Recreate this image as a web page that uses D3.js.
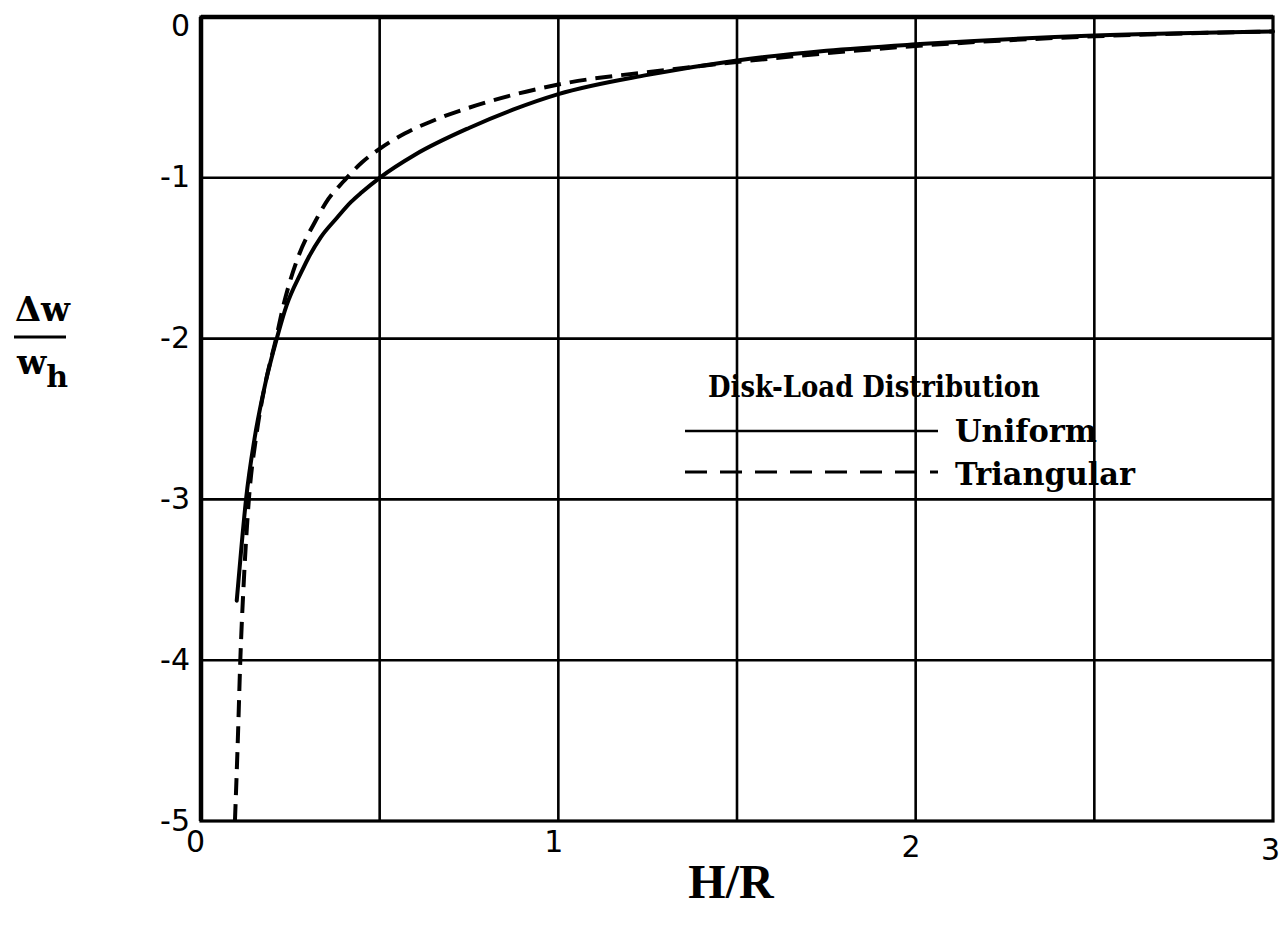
<!DOCTYPE html>
<html>
<head>
<meta charset="utf-8">
<script src="https://cdn.jsdelivr.net/npm/d3@7/dist/d3.min.js"></script>
<style>
  html, body { margin: 0; padding: 0; background: #fff; }
  svg { display: block; }
</style>
</head>
<body>
<svg id="chart" width="1286" height="932"></svg>
<script>
// ---- Data ----
const xTicks = [0, 1, 2, 3];
const xGrid = [0.5, 1, 1.5, 2, 2.5];
const yTicks = [0, -1, -2, -3, -4, -5];
const yTickLabels = ["0", "-1", "-2", "-3", "-4", "-5"];

const uniformX = [0.10, 0.113, 0.126, 0.15, 0.18, 0.212, 0.24, 0.28, 0.30, 0.335, 0.38, 0.42, 0.45, 0.5, 0.6, 0.75, 0.875, 1.0, 1.25, 1.5, 1.75, 2.0, 2.5, 3.0];
const uniformY = [-3.63, -3.3, -3.0, -2.62, -2.28, -2.0, -1.79, -1.59, -1.50, -1.37, -1.25, -1.15, -1.09, -1.0, -0.855, -0.69, -0.575, -0.48, -0.36, -0.27, -0.21, -0.17, -0.115, -0.09];

const triangularX = [0.095, 0.103, 0.11, 0.12, 0.134, 0.155, 0.18, 0.21, 0.23, 0.274, 0.32, 0.357, 0.40, 0.45, 0.5, 0.57, 0.66, 0.77, 1.0, 1.3, 1.5, 2.0, 2.5, 3.0];
const triangularY = [-5.0, -4.5, -4.0, -3.5, -3.0, -2.6, -2.28, -2.0, -1.8, -1.48, -1.27, -1.13, -1.02, -0.905, -0.82, -0.725, -0.635, -0.55, -0.42, -0.33, -0.28, -0.18, -0.12, -0.09];

const legendTitle = "Disk-Load Distribution";
const seriesNames = ["Uniform", "Triangular"];

(function () {
// ---- Layout ----
const pLeft = 201, pRight = 1273, pTop = 17, pBottom = 821;
const svg = d3.select("#chart");

const x = d3.scaleLinear().domain([0, 3]).range([pLeft, pRight]);
const y = d3.scaleLinear().domain([-5, 0]).range([pBottom, pTop]);

// Grid
const g = svg.append("g");
g.selectAll(".vg").data(xGrid).enter().append("line")
  .attr("x1", d => x(d)).attr("x2", d => x(d))
  .attr("y1", pTop).attr("y2", pBottom)
  .attr("stroke", "#000").attr("stroke-width", 2.6);
g.selectAll(".hg").data(yTicks.filter(d => d !== 0 && d !== -5)).enter().append("line")
  .attr("x1", pLeft).attr("x2", pRight)
  .attr("y1", d => y(d)).attr("y2", d => y(d))
  .attr("stroke", "#000").attr("stroke-width", 2.6);

// Frame
svg.append("rect")
  .attr("x", pLeft).attr("y", pTop)
  .attr("width", pRight - pLeft).attr("height", pBottom - pTop)
  .attr("fill", "none").attr("stroke", "#000").attr("stroke-width", 3.2);
svg.append("line").attr("x1", pLeft).attr("x2", pLeft).attr("y1", pTop).attr("y2", pBottom)
  .attr("stroke", "#000").attr("stroke-width", 4.5);
svg.append("line").attr("x1", pLeft).attr("x2", pRight).attr("y1", pTop).attr("y2", pTop)
  .attr("stroke", "#000").attr("stroke-width", 4.5);

// Axes (labels via d3 axes)
const yAxis = d3.axisLeft(y).tickValues(yTicks)
  .tickFormat((d, i) => yTickLabels[i]).tickSize(0).tickPadding(11);
const ya = svg.append("g").attr("transform", `translate(${pLeft},0)`).call(yAxis);
ya.select(".domain").remove();
ya.selectAll("text").attr("font-family", "DejaVu Sans, sans-serif")
  .attr("font-size", 30).attr("fill", "#000").attr("dy", "0.3em");
ya.selectAll(".tick").filter(d => d === 0).select("text").attr("dy", "0.6em");

const xAxis = d3.axisBottom(x).tickValues(xTicks).tickFormat(d3.format("d")).tickSize(0).tickPadding(10);
const xa = svg.append("g").attr("transform", `translate(0,${pBottom})`).call(xAxis);
xa.select(".domain").remove();
xa.selectAll("text").attr("font-family", "DejaVu Sans, sans-serif")
  .attr("font-size", 30).attr("fill", "#000");
xa.selectAll(".tick").filter(d => d === 0).select("text").attr("dx", -6);
xa.selectAll(".tick").filter(d => d === 3).select("text").attr("dx", -3).attr("dy", "0.95em");
xa.selectAll(".tick").filter(d => d === 2).select("text").attr("dx", -5).attr("dy", "0.85em");
xa.selectAll(".tick").filter(d => d === 1).select("text").attr("dx", -5);

// Curves
const line = d3.line().x(d => x(d[0])).y(d => y(d[1])).curve(d3.curveMonotoneX);
const uni = uniformX.map((v, i) => [v, uniformY[i]]);
const tri = triangularX.map((v, i) => [v, triangularY[i]]);

svg.append("path").datum(uni).attr("d", line)
  .attr("fill", "none").attr("stroke", "#000").attr("stroke-width", 4).attr("stroke-linecap", "round");
svg.append("path").datum(tri).attr("d", line)
  .attr("fill", "none").attr("stroke", "#000").attr("stroke-width", 4)
  .attr("stroke-dasharray", "17,9");

// Legend
const serif = "DejaVu Serif, Liberation Serif, serif";
svg.append("text").attr("x", 708).attr("y", 397)
  .attr("font-family", serif).attr("font-weight", "bold").attr("font-size", 30)
  .attr("textLength", 332).attr("lengthAdjust", "spacingAndGlyphs")
  .text(legendTitle);
svg.append("line").attr("x1", 685).attr("x2", 938).attr("y1", 431).attr("y2", 431)
  .attr("stroke", "#000").attr("stroke-width", 2.6);
svg.append("text").attr("x", 955).attr("y", 442)
  .attr("font-family", serif).attr("font-weight", "bold").attr("font-size", 32)
  .attr("textLength", 142).attr("lengthAdjust", "spacingAndGlyphs")
  .text(seriesNames[0]);
svg.append("line").attr("x1", 685).attr("x2", 938).attr("y1", 472).attr("y2", 472)
  .attr("stroke", "#000").attr("stroke-width", 2.8).attr("stroke-dasharray", "22,13");
svg.append("text").attr("x", 955).attr("y", 485)
  .attr("font-family", serif).attr("font-weight", "bold").attr("font-size", 32)
  .attr("textLength", 180).attr("lengthAdjust", "spacingAndGlyphs")
  .text(seriesNames[1]);

// X axis title
svg.append("text").attr("x", 731).attr("y", 898).attr("text-anchor", "middle")
  .attr("font-family", "Liberation Serif, serif").attr("font-weight", "bold").attr("font-size", 48)
  .text("H/R");

// Y axis title: Δw / w_h
const yl = svg.append("g").attr("font-family", "DejaVu Serif, serif").attr("font-weight", "bold").attr("fill", "#000");
yl.append("text").attr("x", 15).attr("y", 321).attr("font-size", 34)
  .attr("textLength", 55).attr("lengthAdjust", "spacingAndGlyphs").text("\u0394w");
yl.append("line").attr("x1", 14).attr("x2", 66).attr("y1", 337).attr("y2", 337)
  .attr("stroke", "#000").attr("stroke-width", 3);
const wh = yl.append("text").attr("x", 17).attr("y", 374).attr("font-size", 34);
wh.append("tspan").text("w");
wh.append("tspan").attr("dy", 13).attr("font-size", 30).text("h");
})();
</script>
</body>
</html>
